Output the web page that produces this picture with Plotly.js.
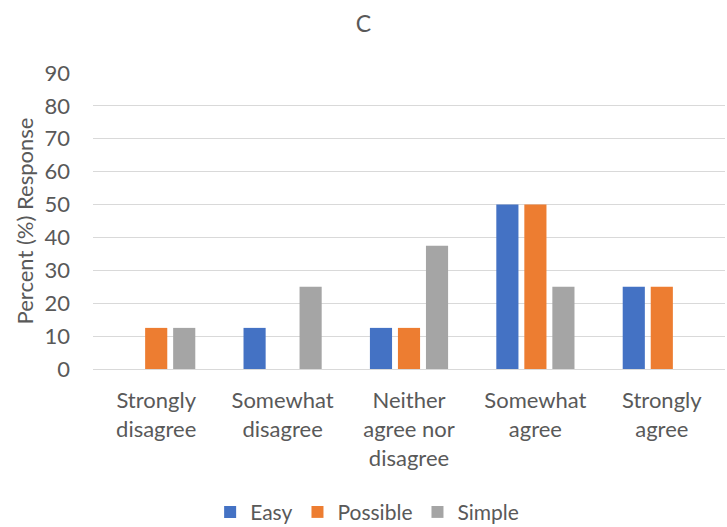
<!DOCTYPE html>
<html>
<head>
<meta charset="utf-8">
<script src="https://cdn.plot.ly/plotly-3.0.1.min.js"></script>
<style>html,body{margin:0;padding:0;background:#fff;}#chart{width:727px;height:527px;}</style>
</head>
<body>
<div id="chart"></div>
<script>
const categories = ["Strongly<br>disagree", "Somewhat<br>disagree", "Neither<br>agree nor<br>disagree", "Somewhat<br>agree", "Strongly<br>agree"];
const easy = [0, 12.5, 12.5, 50, 25];
const possible = [12.5, 0, 12.5, 50, 25];
const simple = [12.5, 25, 37.5, 25, 0];
const seriesNames = ["Easy", "Possible", "Simple"];
const colors = ["#4472C4", "#ED7D31", "#A5A5A5"];
const yTicks = [0, 10, 20, 30, 40, 50, 60, 70, 80, 90];

const font = "Lato, 'Open Sans', sans-serif";
const traces = [easy, possible, simple].map((vals, i) => ({
  type: "bar",
  name: seriesNames[i],
  x: categories,
  y: vals,
  marker: {color: colors[i]},
  hoverinfo: "skip"
}));

const layout = {
  width: 727, height: 527,
  margin: {l: 93, r: 2, t: 73, b: 158},
  paper_bgcolor: "#fff", plot_bgcolor: "#fff",
  font: {family: font, color: "#595959", size: 22},
  title: {text: "C", x: 0.5, xanchor: "center", y: 0.955, yanchor: "middle", font: {family: font, size: 23, color: "#595959"}},
  barmode: "group",
  bargap: 0.335,
  bargroupgap: 0.21,
  xaxis: {
    type: "category",
    showgrid: false,
    showline: true, linecolor: "#D9D9D9", linewidth: 1,
    ticks: "", tickfont: {family: font, size: 22, color: "#595959"},
    ticklabelstandoff: 12
  },
  yaxis: {
    range: [0, 90],
    tickvals: yTicks,
    ticktext: yTicks.map(String),
    showgrid: true, gridcolor: "#D9D9D9", gridwidth: 1,
    zeroline: false, showline: false,
    ticks: "", tickfont: {family: font, size: 22, color: "#595959"},
    ticklabelstandoff: 22,
    title: {text: "Percent (%) Response", font: {family: font, size: 22, color: "#595959"}, standoff: 4}
  },
  legend: {
    orientation: "h", xref: "container", yref: "container",
    x: 0.505, xanchor: "center", y: 0.028, yanchor: "middle",
    bgcolor: "rgba(0,0,0,0)",
    font: {family: font, size: 21, color: "#595959"},
    itemwidth: 30, traceorder: "normal"
  },
  showlegend: true
};

Plotly.newPlot("chart", traces, layout, {displayModeBar: false, staticPlot: true});
</script>
</body>
</html>
